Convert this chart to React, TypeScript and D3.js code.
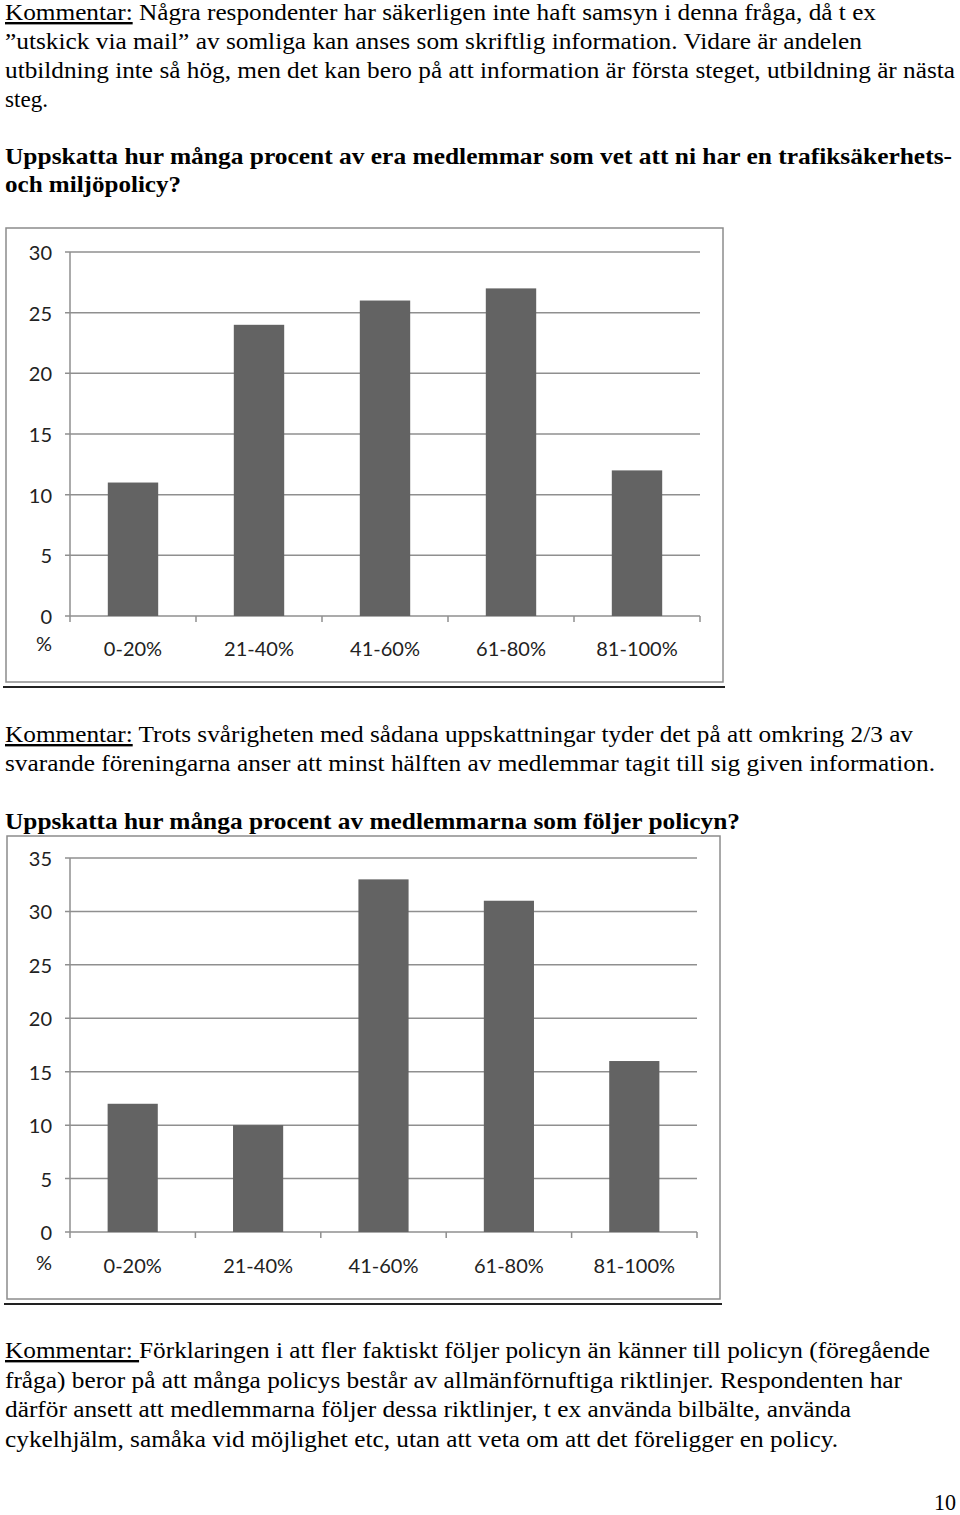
import React from "react";
import * as d3 from "d3";

const categories = ["0-20%", "21-40%", "41-60%", "61-80%", "81-100%"];
const knowValues = [11, 24, 26, 27, 12];
const followValues = [12, 10, 33, 31, 16];
const knowTicks = [0, 5, 10, 15, 20, 25, 30];
const followTicks = [0, 5, 10, 15, 20, 25, 30, 35];

type Seg = { t: string; u?: boolean };
type LineDef = { segs: Seg[]; y: number; x1: number; bold?: boolean };

const para1: LineDef[] = [
  { segs: [{ t: "Kommentar:", u: true }, { t: " Några respondenter har säkerligen inte haft samsyn i denna fråga, då t ex" }], y: 20, x1: 876 },
  { segs: [{ t: "”utskick via mail” av somliga kan anses som skriftlig information. Vidare är andelen" }], y: 49, x1: 862 },
  { segs: [{ t: "utbildning inte så hög, men det kan bero på att information är första steget, utbildning är nästa" }], y: 78, x1: 955 },
  { segs: [{ t: "steg." }], y: 107, x1: 48 },
  { segs: [{ t: "Uppskatta hur många procent av era medlemmar som vet att ni har en trafiksäkerhets-" }], y: 164, x1: 952, bold: true },
  { segs: [{ t: "och miljöpolicy?" }], y: 192, x1: 181, bold: true },
];

const para2: LineDef[] = [
  { segs: [{ t: "Kommentar:", u: true }, { t: " Trots svårigheten med sådana uppskattningar tyder det på att omkring 2/3 av" }], y: 742, x1: 913 },
  { segs: [{ t: "svarande föreningarna anser att minst hälften av medlemmar tagit till sig given information." }], y: 771, x1: 935 },
  { segs: [{ t: "Uppskatta hur många procent av medlemmarna som följer policyn?" }], y: 829, x1: 740, bold: true },
];

const para3: LineDef[] = [
  { segs: [{ t: "Kommentar: ", u: true }, { t: "Förklaringen i att fler faktiskt följer policyn än känner till policyn (föregående" }], y: 1358, x1: 930 },
  { segs: [{ t: "fråga) beror på att många policys består av allmänförnuftiga riktlinjer. Respondenten har" }], y: 1388, x1: 902 },
  { segs: [{ t: "därför ansett att medlemmarna följer dessa riktlinjer, t ex använda bilbälte, använda" }], y: 1417, x1: 851 },
  { segs: [{ t: "cykelhjälm, samåka vid möjlighet etc, utan att veta om att det föreligger en policy." }], y: 1447, x1: 838 },
];

const serif = "'Liberation Serif', 'Times New Roman', serif";
const sans = "Lato, 'Open Sans', sans-serif";

function TextLines({ lines }: { lines: LineDef[] }) {
  return (
    <g fontFamily={serif} fontSize={24} fill="#000">
      {lines.map((l, i) => (
        <text
          key={i}
          x={5}
          y={l.y}
          fontWeight={l.bold ? "bold" : "normal"}
          textLength={l.x1 - 5}
          lengthAdjust="spacingAndGlyphs"
        >
          {l.segs.map((s, j) => (
            <tspan key={j} textDecoration={s.u ? "underline" : undefined}>
              {s.t}
            </tspan>
          ))}
        </text>
      ))}
    </g>
  );
}

type ChartProps = {
  values: number[];
  ticks: number[];
  max: number;
  frame: { x0: number; y0: number; x1: number; y1: number };
  xRange: [number, number];
  yRange: [number, number];
  pctY: number;
  labelY: number;
};

function BarChart({ values, ticks, max, frame, xRange, yRange, pctY, labelY }: ChartProps) {
  const x = d3.scaleBand<string>().domain(categories).range(xRange).paddingInner(0.6).paddingOuter(0.3);
  const y = d3.scaleLinear().domain([0, max]).range(yRange);
  const grid = "#8f8f8f";
  const step = x.step();
  const boundaries = d3.range(categories.length + 1).map((i) => xRange[0] + i * step);
  return (
    <g>
      <rect
        x={frame.x0}
        y={frame.y0}
        width={frame.x1 - frame.x0}
        height={frame.y1 - frame.y0}
        fill="#fff"
        stroke="#8c8c8c"
        strokeWidth={1.5}
      />
      <line x1={frame.x0 - 3} x2={frame.x1 + 2} y1={frame.y1 + 5} y2={frame.y1 + 5} stroke="#222" strokeWidth={2} />
      {ticks.map((t) => (
        <g key={t}>
          <line x1={xRange[0] - 5} x2={xRange[1]} y1={y(t)} y2={y(t)} stroke={grid} strokeWidth={1.5} />
          <text x={52} y={y(t)} textAnchor="end" dominantBaseline="central" fontFamily={sans} fontSize={20} fill="#222">
            {t}
          </text>
        </g>
      ))}
      <line x1={xRange[0]} x2={xRange[0]} y1={y(max)} y2={y(0)} stroke={grid} strokeWidth={1.5} />
      {boundaries.map((b, i) => (
        <line key={i} x1={b} x2={b} y1={y(0)} y2={y(0) + 6} stroke={grid} strokeWidth={1.5} />
      ))}
      {values.map((v, i) => (
        <rect
          key={i}
          x={x(categories[i])!}
          y={y(v)}
          width={x.bandwidth()}
          height={y(0) - y(v)}
          fill="#636363"
        />
      ))}
      <text x={52} y={pctY} textAnchor="end" dominantBaseline="central" fontFamily={sans} fontSize={20} fill="#222">
        %
      </text>
      {categories.map((c) => (
        <text
          key={c}
          x={x(c)! + x.bandwidth() / 2}
          y={labelY}
          textAnchor="middle"
          dominantBaseline="central"
          fontFamily={sans}
          fontSize={20}
          fill="#222"
        >
          {c}
        </text>
      ))}
    </g>
  );
}

export default function App() {
  return (
    <svg
      width={960}
      height={1515}
      viewBox="0 0 960 1515"
      style={{ position: "absolute", left: 0, top: 0, background: "#fff" }}
    >
      <rect x={0} y={0} width={960} height={1515} fill="#fff" />
      <TextLines lines={para1} />
      <BarChart
        values={knowValues}
        ticks={knowTicks}
        max={30}
        frame={{ x0: 6, y0: 228, x1: 723, y1: 682 }}
        xRange={[70, 700]}
        yRange={[616, 252]}
        pctY={643}
        labelY={648}
      />
      <TextLines lines={para2} />
      <BarChart
        values={followValues}
        ticks={followTicks}
        max={35}
        frame={{ x0: 7, y0: 836, x1: 720, y1: 1299 }}
        xRange={[70, 697]}
        yRange={[1232, 858]}
        pctY={1262}
        labelY={1265}
      />
      <TextLines lines={para3} />
      <text x={956} y={1510} textAnchor="end" fontFamily={serif} fontSize={24} textLength={22} lengthAdjust="spacingAndGlyphs">
        10
      </text>
    </svg>
  );
}
